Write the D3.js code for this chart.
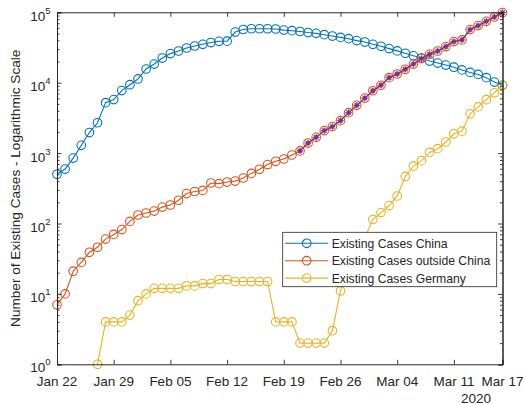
<!DOCTYPE html>
<html>
<head>
<meta charset="utf-8">
<script src="https://cdn.jsdelivr.net/npm/d3@7"></script>
<style>
	body { margin: 0; background: #fff; }
	svg { display: block; font-family: "Liberation Sans", Arial, sans-serif; }
</style>
</head>
<body>
<div class="chart"></div>
<script>
// days from Jan 22 to Mar 17 2020
const startDay = new Date(Date.UTC(2020, 0, 22));
const endDay = new Date(Date.UTC(2020, 2, 17));
const days = d3.utcDay.range(startDay, d3.utcDay.offset(endDay, 1));

const tickLabels = ['Jan 22', 'Jan 29', 'Feb 05', 'Feb 12', 'Feb 19', 'Feb 26', 'Mar 04', 'Mar 11', 'Mar 17'];
const yearLabel = '2020';
const yTickExponents = [0, 1, 2, 3, 4, 5];

const casesChina = [500, 594, 850, 1290, 1960, 2700, 5210, 5760, 7730, 9360,
	11300, 15660, 18400, 22400, 25900, 28200, 31100, 33200, 35100, 37200,
	38700, 38900, 52400, 57000, 58400, 58400, 58400, 57900, 55900, 54800,
	53400, 51600, 50200, 48100, 46000, 44000, 42200, 39600, 37800, 35100,
	32900, 30500, 28300, 26200, 24100, 22400, 20300, 19000, 17800, 16600,
	15200, 14000, 13100, 11800, 10200, 9200];

const casesOutside = [7, 10, 21, 28, 39, 46, 60, 70, 82, 107,
	132, 141, 150, 171, 183, 214, 266, 285, 295, 376,
	368, 388, 400, 443, 515, 590, 687, 765, 824, 940,
	1075, 1390, 1676, 2088, 2378, 2890, 3755, 4770, 6050, 7680,
	9200, 11800, 13300, 15500, 18400, 22000, 25300, 28200, 32600, 38400,
	40500, 56800, 64700, 74400, 85700, 99100];

const casesGermany = [null, null, null, null, null, 1, 4, 4, 4, 5,
	8, 10, 12, 12, 12, 12, 13, 13, 14, 14,
	16, 16, 15, 15, 15, 15, 15, 4, 4, 4,
	2, 2, 2, 2, 3, 11, 30, 32, 63, 114,
	143, 180, 246, 466, 653, 781, 1022, 1156, 1437, 1880,
	2050, 3622, 4530, 5738, 7188, 9166];

// highlighted part of the outside China curve (from Feb 20)
const highlightStart = 30;
const casesHighlight = [1075, 1390, 1676, 2088, 2378, 2890, 3755, 4770, 6050, 7680,
	9200, 11800, 13300, 15500, 18400, 22000, 25300, 28200, 32600, 38400,
	40500, 56800, 64700, 74400, 85700, 99100];

const seriesNames = ['Existing Cases China', 'Existing Cases outside China', 'Existing Cases Germany'];
const seriesColors = ['#0072BD', '#D95319', '#EDB120'];
const highlightColor = '#7E2F8E';

renderChart();

function renderChart() {
	const width = 525;
	const height = 404;
	const left = 57, right = 502.5, top = 12.3, bottom = 364.3;
	const axisColor = '#262626';

	const svg = d3.select('.chart')
		.append('svg')
		.attr('width', width)
		.attr('height', height);

	const x = d3.scaleUtc()
		.domain([startDay, endDay])
		.range([left, right]);
	const y = d3.scaleLog()
		.domain([1, 1e5])
		.range([bottom, top]);

	const parseTick = d3.utcParse('%b %d %Y');
	const tickDates = tickLabels.map(t => parseTick(t + ' 2020'));
	const majorY = yTickExponents.map(e => Math.pow(10, e));
	const minorY = [];
	yTickExponents.slice(0, -1).forEach(e => {
		for (let m = 2; m < 10; m++) minorY.push(m * Math.pow(10, e));
	});

	// white plot background
	svg.append('rect')
		.attr('x', left).attr('y', top)
		.attr('width', right - left).attr('height', bottom - top)
		.attr('fill', '#fff');

	// series
	const line = d3.line()
		.defined(d => d.v != null)
		.x(d => x(d.date))
		.y(d => y(d.v));

	const allSeries = [casesChina, casesOutside, casesGermany];
	allSeries.forEach((values, k) => {
		const pts = values.map((v, i) => ({date: days[i], v: v}));
		const g = svg.append('g').attr('class', 'series');
		g.append('path')
			.datum(pts)
			.attr('d', line)
			.attr('fill', 'none')
			.attr('stroke', seriesColors[k])
			.attr('stroke-width', 1.1);
		g.selectAll('circle')
			.data(pts.filter(d => d.v != null))
			.enter()
			.append('circle')
			.attr('cx', d => x(d.date))
			.attr('cy', d => y(d.v))
			.attr('r', 4.3)
			.attr('fill', 'none')
			.attr('stroke', seriesColors[k])
			.attr('stroke-width', 1.1);
	});

	// highlighted segment with star markers
	const hiPts = casesHighlight.map((v, i) => ({date: days[highlightStart + i], v: v}));
	const hi = svg.append('g').attr('class', 'highlight');
	hi.append('path')
		.datum(hiPts)
		.attr('d', line)
		.attr('fill', 'none')
		.attr('stroke', highlightColor)
		.attr('stroke-width', 1.1);
	const star = 'M-3.2,0H3.2M0,-3.2V3.2M-2.3,-2.3L2.3,2.3M-2.3,2.3L2.3,-2.3';
	const stars = hi.selectAll('.star')
		.data(hiPts)
		.enter()
		.append('g')
		.attr('class', 'star')
		.attr('transform', d => 'translate(' + x(d.date) + ',' + y(d.v) + ')');
	stars.append('circle')
		.attr('r', 2.4)
		.attr('fill', highlightColor)
		.attr('opacity', 0.85);
	stars.append('path')
		.attr('d', star)
		.attr('stroke', highlightColor)
		.attr('stroke-width', 1);

	// axes: ticks pointing inwards, box on
	const xBottom = svg.append('g')
		.attr('transform', 'translate(0,' + bottom + ')')
		.call(d3.axisBottom(x).tickValues(tickDates).tickSize(-4.5).tickFormat(''));
	const xTop = svg.append('g')
		.attr('transform', 'translate(0,' + top + ')')
		.call(d3.axisTop(x).tickValues(tickDates).tickSize(-4.5).tickFormat(''));
	const yLeft = svg.append('g')
		.attr('transform', 'translate(' + left + ',0)')
		.call(d3.axisLeft(y).tickValues(majorY).tickSize(-4.5).tickFormat(''));
	const yLeftMinor = svg.append('g')
		.attr('transform', 'translate(' + left + ',0)')
		.call(d3.axisLeft(y).tickValues(minorY).tickSize(-2.5).tickFormat(''));
	const yRight = svg.append('g')
		.attr('transform', 'translate(' + right + ',0)')
		.call(d3.axisRight(y).tickValues(majorY).tickSize(-4.5).tickFormat(''));
	const yRightMinor = svg.append('g')
		.attr('transform', 'translate(' + right + ',0)')
		.call(d3.axisRight(y).tickValues(minorY).tickSize(-2.5).tickFormat(''));

	[xBottom, xTop, yLeft, yLeftMinor, yRight, yRightMinor].forEach(a => {
		a.selectAll('path').attr('stroke', axisColor).attr('stroke-width', 1);
		a.selectAll('line').attr('stroke', axisColor).attr('stroke-width', 0.9);
	});

	// x tick labels
	svg.selectAll('.xlabel')
		.data(tickDates)
		.enter()
		.append('text')
		.attr('class', 'xlabel')
		.attr('x', d => x(d))
		.attr('y', bottom + 21.5)
		.attr('text-anchor', 'middle')
		.attr('font-size', '13.5px')
		.attr('fill', axisColor)
		.text((d, i) => tickLabels[i]);
	svg.append('text')
		.attr('x', 476)
		.attr('y', 402.5)
		.attr('text-anchor', 'middle')
		.attr('font-size', '13.5px')
		.attr('fill', axisColor)
		.text(yearLabel);

	// y tick labels as powers of ten
	const ylabels = svg.selectAll('.ylabel')
		.data(yTickExponents)
		.enter()
		.append('text')
		.attr('class', 'ylabel')
		.attr('x', 50.5)
		.attr('y', d => y(Math.pow(10, d)) + (d === 0 ? 7.5 : 8.5))
		.attr('text-anchor', 'end')
		.attr('fill', axisColor)
		.attr('font-size', '13.5px');
	ylabels.append('tspan').text('10');
	ylabels.append('tspan')
		.attr('dy', -7)
		.attr('font-size', '9.5px')
		.text(d => d);

	// y axis title
	svg.append('text')
		.attr('transform', 'translate(20,' + ((top + bottom) / 2) + ') rotate(-90)')
		.attr('text-anchor', 'middle')
		.attr('font-size', '13.6px')
		.attr('fill', axisColor)
		.text('Number of Existing Cases - Logarithmic Scale');

	// legend
	const lg = svg.append('g').attr('class', 'legend');
	lg.append('rect')
		.attr('x', 282.7).attr('y', 232.3)
		.attr('width', 214).attr('height', 54.4)
		.attr('fill', '#fff')
		.attr('stroke', axisColor)
		.attr('stroke-width', 0.8);
	const rows = lg.selectAll('.row')
		.data(seriesNames)
		.enter()
		.append('g')
		.attr('class', 'row')
		.attr('transform', (d, i) => 'translate(0,' + (243.3 + i * 17.4) + ')');
	rows.append('line')
		.attr('x1', 285).attr('x2', 328.3)
		.attr('stroke', (d, i) => seriesColors[i])
		.attr('stroke-width', 1.1);
	rows.append('circle')
		.attr('cx', 306.7)
		.attr('r', 4.3)
		.attr('fill', 'none')
		.attr('stroke', (d, i) => seriesColors[i])
		.attr('stroke-width', 1.1);
	rows.append('text')
		.attr('x', 331.7)
		.attr('y', 4.4)
		.attr('font-size', '12.2px')
		.attr('fill', axisColor)
		.text(d => d);
}
</script>
</body>
</html>
